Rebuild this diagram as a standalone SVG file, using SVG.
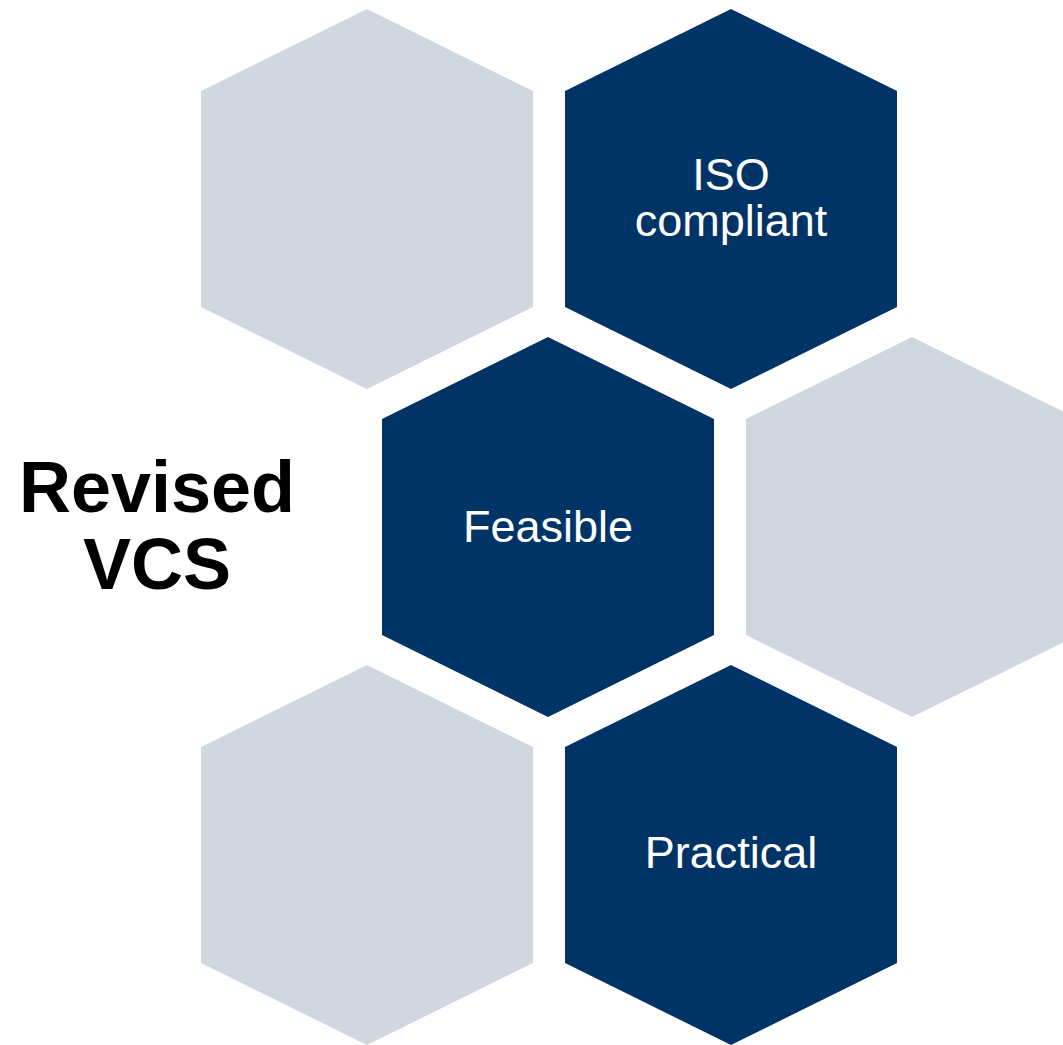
<svg xmlns="http://www.w3.org/2000/svg" width="1063" height="1045" viewBox="0 0 1063 1045">
<style>
.gray{fill:#D1D7E0}
.navy{fill:#003466}
.lbl{font-family:"Liberation Sans",Arial,sans-serif;font-size:45px;fill:#FFFFFF;text-anchor:middle}
.title{font-family:"Liberation Sans",Arial,sans-serif;font-size:72px;font-weight:bold;fill:#000000;text-anchor:middle}
</style>
<defs>
<polygon id="hex" points="0,-190 166,-108 166,108 0,190 -166,108 -166,-108"/>
</defs>
<rect width="1063" height="1045" fill="#FFFFFF"/>
<g id="hex-top-left"><use href="#hex" class="gray" transform="translate(367,199)"/></g>
<g id="hex-iso"><use href="#hex" class="navy" transform="translate(731,199)"/>
<text class="lbl" x="731" y="190">ISO</text><text class="lbl" x="731" y="236">compliant</text></g>
<g id="hex-feasible"><use href="#hex" class="navy" transform="translate(548,527)"/>
<text class="lbl" x="548" y="542">Feasible</text></g>
<g id="hex-mid-right"><use href="#hex" class="gray" transform="translate(912,527)"/></g>
<g id="hex-bottom-left"><use href="#hex" class="gray" transform="translate(367,855)"/></g>
<g id="hex-practical"><use href="#hex" class="navy" transform="translate(731,855)"/>
<text class="lbl" x="731" y="868">Practical</text></g>
<g id="title"><text class="title" x="157" y="512">Revised</text><text class="title" x="157" y="589">VCS</text></g>
<g id="connectors"/>
</svg>
